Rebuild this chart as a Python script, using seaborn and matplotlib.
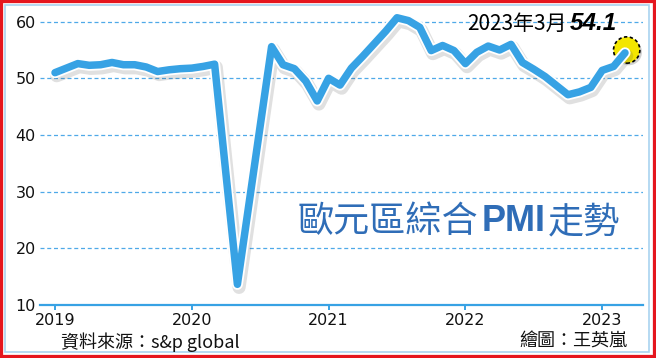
import matplotlib
matplotlib.use("Agg")
import matplotlib.pyplot as plt
import matplotlib.patheffects as pe
from matplotlib.patches import Rectangle
import seaborn as sns
import pandas as pd

# ---- data ----
months = pd.date_range("2019-01-01", "2023-03-01", freq="MS").strftime("%Y-%m").tolist()
pmi_2019 = [51.0, 51.8, 52.6, 52.3, 52.4, 52.8, 52.4, 52.4, 52.0, 51.2, 51.5, 51.7]
pmi_2020 = [51.8, 52.1, 52.5, 33.0, 13.6, 27.6, 41.6, 55.6, 52.4, 51.7, 49.5, 46.0]
pmi_2021 = [50.0, 48.8, 51.8, 53.9, 56.1, 58.3, 60.7, 60.2, 59.0, 54.9, 55.8, 54.9]
pmi_2022 = [52.6, 54.6, 55.7, 55.0, 56.0, 52.8, 51.6, 50.3, 48.7, 47.1, 47.6, 48.4]
pmi_2023 = [51.4, 52.1, 54.5]
year_labels = ["2019", "2020", "2021", "2022", "2023"]
y_ticks = [10, 20, 30, 40, 50, 60]
title_parts = ["歐元區綜合", "PMI", "走勢"]
note_date = "2023年3月"
note_value = "54.1"
source_text = "資料來源：s&p global"
credit_text = "繪圖：王英嵐"

values = pmi_2019 + pmi_2020 + pmi_2021 + pmi_2022 + pmi_2023
df = pd.DataFrame({"month": months, "pmi": values})
df["idx"] = range(len(df))

W, H = 656, 358
sns.set_theme(style="white")
plt.rcParams["font.family"] = ["DejaVu Sans", "Noto Sans CJK TC"]

fig = plt.figure(figsize=(W / 100, H / 100), dpi=100)
fig.patch.set_facecolor("white")

def fx(px):
    return px / W

def fy(py):
    return 1 - py / H

ax_bottom_px, ax_top_px = 304.7, 10.4
ax = fig.add_axes([fx(40), fy(ax_bottom_px), (643 - 40) / W, (ax_bottom_px - ax_top_px) / H])
ax.set_facecolor("none")

LINE_BLUE = "#37A2E4"
GRID_BLUE = "#4FA9E8"

# grid lines
for v in y_ticks[1:]:
    ax.axhline(v, color=GRID_BLUE, lw=0.9, ls=(0, (3.2, 2.2)), zorder=1)

# end-point circle
last = df.iloc[-1]
circ = ax.scatter([last["idx"] + 0.15], [last["pmi"] + 0.5], s=360, facecolor="#F3E600",
                  edgecolor="black", linewidths=1.2, linestyle=(0, (2, 1.5)), zorder=3)
circ.set_path_effects([pe.SimplePatchShadow(offset=(1.5, -1.5), shadow_rgbFace=(0.3, 0.3, 0.3),
                                            alpha=0.25), pe.Normal()])

# main line
sns.lineplot(data=df, x="idx", y="pmi", ax=ax, color=LINE_BLUE, linewidth=5.4,
             zorder=4, legend=False)
line = ax.lines[-1]
line.set_solid_capstyle("round")
line.set_solid_joinstyle("round")
line.set_path_effects([
    pe.SimpleLineShadow(offset=(1.2, -2.2), shadow_color="#555555", alpha=0.18, linewidth=9.5),
    pe.Stroke(linewidth=8.0, foreground="white"),
    pe.Normal(),
])

ax.set_xlim((40 - 55) / 11.4, (643 - 55) / 11.4)
ax.set_ylim(10, 62)
ax.set_xlabel("")
ax.set_ylabel("")

ax.set_xticks([0, 12, 24, 36, 48])
ax.set_xticklabels(year_labels, fontsize=11.5, color="#111111")
ax.set_yticks(y_ticks)
ax.set_yticklabels([str(v) for v in y_ticks], fontsize=11.5, color="#111111")
ax.tick_params(axis="x", direction="out", length=3.5, width=1.4, color=LINE_BLUE, pad=2.5,
               bottom=True)
ax.tick_params(axis="y", length=0, pad=3)
for side in ["left", "right", "top"]:
    ax.spines[side].set_visible(False)
ax.spines["bottom"].set_color(LINE_BLUE)
ax.spines["bottom"].set_linewidth(1.6)

# title: 歐元區綜合PMI走勢
TITLE_BLUE = "#2F6DB7"
t1 = fig.text(fx(298), fy(222), title_parts[0], fontsize=26, color=TITLE_BLUE,
              family=["Noto Sans CJK TC"], va="center", ha="left")
t2 = ax.annotate(title_parts[1], xy=(1, 0.5), xycoords=t1, xytext=(2, 0),
                 textcoords="offset points", fontsize=26, color=TITLE_BLUE,
                 family=["Liberation Sans"], weight="bold", va="center", ha="left")
t3 = ax.annotate(title_parts[2], xy=(1, 0.5), xycoords=t2, xytext=(2, 0),
                 textcoords="offset points", fontsize=26, color=TITLE_BLUE,
                 family=["Noto Sans CJK TC"], va="center", ha="left")

# annotation: 2023年3月 54.1
a1 = fig.text(fx(467), fy(24), note_date, fontsize=15, color="black",
              family=["Liberation Sans Narrow", "Noto Sans CJK TC"], va="center", ha="left")
ax.annotate(note_value, xy=(1, 0.5), xycoords=a1, xytext=(2, 0), textcoords="offset points",
            fontsize=17.5, color="black", family=["Liberation Sans"], weight="bold",
            style="italic", va="center", ha="left")

# source / credit
fig.text(fx(61), fy(342), source_text, fontsize=13, color="#111111",
         family=["Noto Sans CJK TC", "DejaVu Sans"], va="center", ha="left")
fig.text(fx(627), fy(342), credit_text, fontsize=13, color="#111111",
         family=["Noto Sans CJK TC", "DejaVu Sans"], va="center", ha="right")

# frames
fig.patches.append(Rectangle((fx(5), fy(352)), (649 - 5) / W, (352 - 5) / H,
                             transform=fig.transFigure, fill=False,
                             edgecolor="#A9D3F0", lw=1.2, zorder=0))
fig.patches.append(Rectangle((0, 0), 1, 1, transform=fig.transFigure, fill=False,
                             edgecolor="#E5161E", lw=4.5, zorder=10))

fig.savefig("out.png", dpi=100)
